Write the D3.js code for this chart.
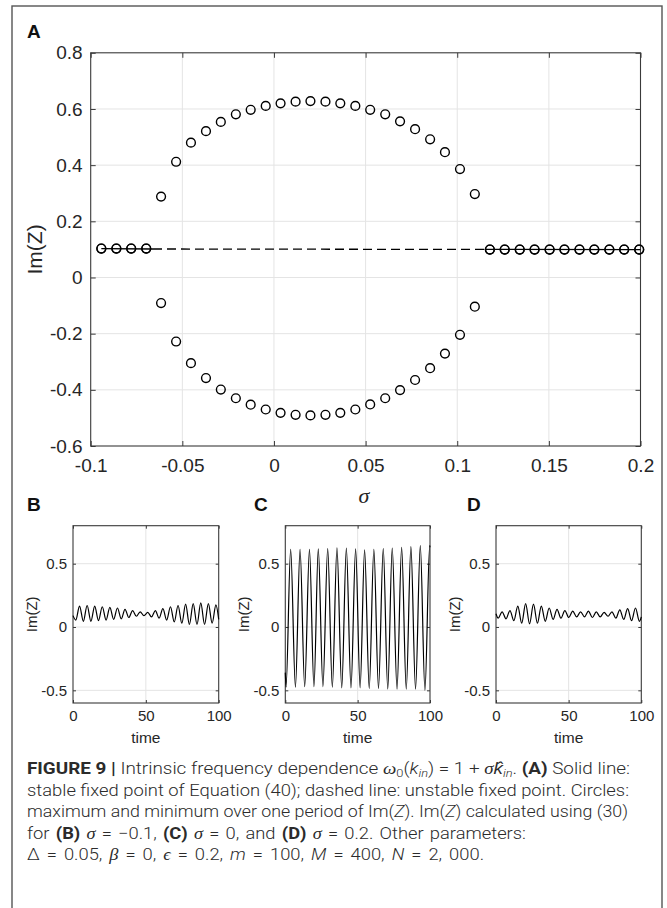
<!DOCTYPE html>
<html><head><meta charset="utf-8">
<script src="https://cdn.jsdelivr.net/npm/d3@7"></script>
<style>
body{margin:0;background:#fff;}
#wrap{position:relative;width:667px;height:908px;overflow:hidden;background:#fff;}
svg{position:absolute;left:0;top:0;}
.cap{position:absolute;left:27px;white-space:nowrap;font-family:Roboto,"Liberation Sans",sans-serif;font-weight:300;font-size:16.5px;color:#2b2b2b;transform-origin:0 0;line-height:20px;}
.cap b{font-weight:700;}
.g{font-family:"Liberation Serif","DejaVu Serif",serif;font-style:italic;font-weight:400;}
.i{font-style:italic;}
.cap sub{font-size:0.68em;vertical-align:-0.28em;line-height:0;}
</style></head><body><div id="wrap"><svg id="chart" width="667" height="908"></svg>
<div class="cap" data-w="603" style="top:759px"><b>FIGURE 9 |</b> Intrinsic frequency dependence <span class="g">ω</span><sub>0</sub>(<span class="i">k<sub>in</sub></span>) = 1 + <span class="g">σ</span><span class="i">k̂<sub>in</sub></span>. <b>(A)</b> Solid line:</div>
<div class="cap" data-w="602" style="top:780.5px">stable fixed point of Equation (40); dashed line: unstable fixed point. Circles:</div>
<div class="cap" data-w="601" style="top:802px">maximum and minimum over one period of Im(<span class="i">Z</span>). Im(<span class="i">Z</span>) calculated using (30)</div>
<div class="cap" data-w="499" style="top:823.5px">for <b>(B)</b> <span class="g">σ</span> = −0.1, <b>(C)</b> <span class="g">σ</span> = 0, and <b>(D)</b> <span class="g">σ</span> = 0.2. Other parameters:</div>
<div class="cap" data-w="457" style="top:845px">Δ = 0.05, <span class="g">β</span> = 0, <span class="g">ϵ</span> = 0.2, <span class="i">m</span> = 100, <span class="i">M</span> = 400, <span class="i">N</span> = 2, 000.</div>
</div>
<script>
// ---------- Panel A data ----------
const sigmaA = [-0.0942,-0.0860,-0.0779,-0.0697,-0.0616,-0.0534,-0.0453,-0.0371,-0.0290,-0.0208,-0.0127,-0.0045,0.0036,0.0118,0.0199,0.0281,0.0362,0.0444,0.0525,0.0607,0.0688,0.0770,0.0852,0.0933,0.1015,0.1096,0.1178,0.1259,0.1341,0.1422,0.1504,0.1585,0.1667,0.1748,0.1830,0.1911,0.1993];
const imMax = [0.103,0.103,0.103,0.103,0.288,0.412,0.480,0.521,0.554,0.581,0.597,0.611,0.620,0.626,0.628,0.626,0.620,0.611,0.597,0.581,0.556,0.528,0.492,0.446,0.386,0.297,0.0995,0.0995,0.0995,0.0995,0.0995,0.0995,0.0995,0.0995,0.0995,0.0995,0.0995];
const imMin = [0.103,0.103,0.103,0.103,-0.091,-0.228,-0.305,-0.358,-0.399,-0.430,-0.453,-0.470,-0.482,-0.489,-0.491,-0.489,-0.482,-0.470,-0.452,-0.430,-0.401,-0.365,-0.323,-0.271,-0.204,-0.104,0.0995,0.0995,0.0995,0.0995,0.0995,0.0995,0.0995,0.0995,0.0995,0.0995,0.0995];
// fixed point branch: segments solid (stable) / dashed (unstable)
const fpSigma = [-0.0942,-0.066,0.115,0.2];
const fpIm = [0.103,0.1015,0.0998,0.0995];
const fpStyle = ["solid","dashed","solid"];
const xTicksA = [-0.1,-0.05,0,0.05,0.1,0.15,0.2];
const xTickLabelsA = ["-0.1","-0.05","0","0.05","0.1","0.15","0.2"];
const yTicksA = [-0.6,-0.4,-0.2,0,0.2,0.4,0.6,0.8];
const yTickLabelsA = ["-0.6","-0.4","-0.2","0","0.2","0.4","0.6","0.8"];

// ---------- Panels B, C, D data (extrema) ----------
const tB = [0,1.9,4.5,7.1,9.7,12.3,14.9,17.5,20.1,22.7,25.3,27.9,30.5,33.1,35.7,38.3,40.9,43.5,46.1,48.7,51.3,53.9,56.5,59.1,61.7,64.3,66.9,69.5,72.1,74.7,77.3,79.9,82.5,85.1,87.7,90.3,92.9,95.5,98.1,100];
const imB = [0.09,0.055,0.165,0.045,0.17,0.045,0.165,0.05,0.16,0.055,0.155,0.06,0.15,0.065,0.14,0.075,0.13,0.085,0.12,0.09,0.115,0.08,0.13,0.07,0.145,0.055,0.16,0.04,0.17,0.03,0.18,0.02,0.185,0.02,0.19,0.02,0.185,0.03,0.175,0.06];
const tC = [0,0.5,3.7,7.0,10.2,13.4,16.7,19.8,22.8,26.0,29.3,32.5,35.7,39.0,42.2,45.4,48.6,51.7,54.8,58.0,61.2,64.4,67.7,70.8,73.9,77.2,80.4,83.6,86.8,90.0,93.3,96.5,99.8,100];
const imC = [-0.36,-0.475,0.614,-0.475,0.614,-0.47,0.614,-0.47,0.617,-0.47,0.62,-0.475,0.626,-0.48,0.624,-0.48,0.617,-0.48,0.61,-0.485,0.614,-0.485,0.62,-0.49,0.624,-0.49,0.63,-0.49,0.635,-0.49,0.642,-0.5,0.642,0.63];
const tD = [0,1.5,4.2,6.9,9.6,12.3,15,17.7,20.4,23.1,25.8,28.5,31.2,33.9,36.6,39.3,42,44.7,47.4,50.1,52.8,55.5,58.2,60.9,63.6,66.3,69,71.7,74.4,77.1,79.8,82.5,85.2,87.9,90.6,93.3,96,98.7,100];
const imD = [0.105,0.07,0.12,0.065,0.13,0.05,0.165,0.03,0.185,0.025,0.18,0.03,0.165,0.045,0.15,0.06,0.14,0.07,0.13,0.075,0.125,0.08,0.12,0.08,0.125,0.075,0.12,0.08,0.115,0.085,0.12,0.07,0.135,0.06,0.145,0.05,0.15,0.045,0.08];
const xTicksS = [0,50,100];
const xTickLabelsS = ["0","50","100"];
const yTicksS = [-0.5,0,0.5];
const yTickLabelsS = ["-0.5","0","0.5"];

// ---------- drawing ----------
const svg = d3.select("#chart");
const AX = "#3a3a3a", TXT = "#262626", GRID = "#e4e4e4";
const FONT = "'Liberation Sans', Arial, sans-serif";

// outer frame
svg.append("rect").attr("x",12).attr("y",6).attr("width",650).attr("height",940)
  .attr("fill","none").attr("stroke","#555").attr("stroke-width",1.4);

function frameAxes(g, x, y, xt, xl, yt, yl, o){
  const [x0,x1] = x.range(), [y0,y1] = y.range(); // y0 bottom, y1 top
  g.append("g").selectAll("line").data(xt.filter(v=>v!==x.domain()[0]&&v!==x.domain()[1])).join("line")
    .attr("x1",d=>x(d)).attr("x2",d=>x(d)).attr("y1",y0).attr("y2",y1).attr("stroke",GRID).attr("stroke-width",1);
  g.append("g").selectAll("line").data(yt.filter(v=>v!==y.domain()[0]&&v!==y.domain()[1])).join("line")
    .attr("y1",d=>y(d)).attr("y2",d=>y(d)).attr("x1",x0).attr("x2",x1).attr("stroke",GRID).attr("stroke-width",1);
  const mk = (gen, tr, labels, pad) => {
    const a = g.append("g").attr("transform",tr)
      .call(gen.tickSize(-o.tick).tickPadding(pad).tickFormat((d,i)=>labels?labels[i]:""));
    a.select(".domain").remove();
    a.selectAll(".tick line").attr("stroke",AX).attr("stroke-width",1);
    a.selectAll("text").attr("fill",TXT).style("font-family",FONT).style("font-size",o.fs+"px");
    return a;
  };
  mk(d3.axisBottom(x).tickValues(xt), `translate(0,${y0})`, xl, o.padX);
  mk(d3.axisTop(x).tickValues(xt), `translate(0,${y1})`, null, 0);
  mk(d3.axisLeft(y).tickValues(yt), `translate(${x0},0)`, yl, o.padY);
  mk(d3.axisRight(y).tickValues(yt), `translate(${x1},0)`, null, 0);
  g.append("rect").attr("x",x0).attr("y",y1).attr("width",x1-x0).attr("height",y0-y1)
    .attr("fill","none").attr("stroke",AX).attr("stroke-width",1.1);
}

// Panel A
const xA = d3.scaleLinear().domain([-0.1,0.2]).range([90.7,640.5]);
const yA = d3.scaleLinear().domain([-0.6,0.8]).range([446,52.8]);
const gA = svg.append("g");
frameAxes(gA, xA, yA, xTicksA, xTickLabelsA, yTicksA, yTickLabelsA, {tick:5, fs:19, padX:12.5, padY:8});
const fpLine = d3.line().x(d=>xA(d[0])).y(d=>yA(d[1]));
fpStyle.forEach((s,i)=>{
  gA.append("path").attr("d",fpLine([[fpSigma[i],fpIm[i]],[fpSigma[i+1],fpIm[i+1]]]))
    .attr("fill","none").attr("stroke","#000").attr("stroke-width",1.3)
    .attr("stroke-dasharray", s==="dashed" ? "9,5" : null);
});
const pts = sigmaA.map((s,i)=>[s,imMax[i]]).concat(sigmaA.map((s,i)=>[s,imMin[i]]));
gA.append("g").selectAll("circle").data(pts).join("circle")
  .attr("cx",d=>xA(d[0])).attr("cy",d=>yA(d[1])).attr("r",4.4)
  .attr("fill","none").attr("stroke","#000").attr("stroke-width",1.4);
gA.append("text").attr("transform","translate(42,249.4) rotate(-90)").attr("text-anchor","middle")
  .style("font-family",FONT).style("font-size","21px").attr("fill",TXT).text("Im(Z)");
gA.append("text").attr("x",364).attr("y",503).attr("text-anchor","middle")
  .style("font-family","'Liberation Serif','DejaVu Serif',serif").style("font-style","italic").style("font-size","22px")
  .attr("fill",TXT).text("σ");

// small panels
const small = [
  {id:"B", x0:73, x1:218.7, lx:27, t:tB, v:imB},
  {id:"C", x0:285.3, x1:430, lx:254, t:tC, v:imC},
  {id:"D", x0:496, x1:641.3, lx:467, t:tD, v:imD}
];
small.forEach(p=>{
  const x = d3.scaleLinear().domain([0,100]).range([p.x0,p.x1]);
  const y = d3.scaleLinear().domain([-0.6,0.8]).range([703,525.7]);
  const g = svg.append("g");
  frameAxes(g, x, y, xTicksS, xTickLabelsS, yTicksS, yTickLabelsS, {tick:3, fs:15, padX:7, padY:6});
  const line = d3.line().x((d,i)=>x(p.t[i])).y(d=>y(d)).curve(d3.curveMonotoneX);
  g.append("path").attr("d",line(p.v)).attr("fill","none").attr("stroke","#000").attr("stroke-width",1.2);
  g.append("text").attr("transform",`translate(${p.x0-36},${(703+525.7)/2}) rotate(-90)`).attr("text-anchor","middle")
    .style("font-family",FONT).style("font-size","15px").attr("fill",TXT).text("Im(Z)");
  g.append("text").attr("x",(p.x0+p.x1)/2).attr("y",743).attr("text-anchor","middle")
    .style("font-family",FONT).style("font-size","15.5px").attr("fill",TXT).text("time");
  svg.append("text").attr("x",p.lx).attr("y",511).style("font-family",FONT).style("font-weight","bold")
    .style("font-size","19px").attr("fill","#111").text(p.id);
});
svg.append("text").attr("x",27).attr("y",38).style("font-family",FONT).style("font-weight","bold")
  .style("font-size","19px").attr("fill","#111").text("A");

// caption fitting: full lines scaled to width; short lines keep the common scale and widen their spacing
const caps = Array.from(document.querySelectorAll(".cap"));
const ws = caps.map(el=>el.getBoundingClientRect().width);
const k = d3.mean([0,1,2].map(i=>+caps[i].dataset.w/ws[i]));
caps.forEach((el,i)=>{
  const target = +el.dataset.w;
  if(i<3){ el.style.transform = `scaleX(${target/ws[i]})`; return; }
  const nSp = (el.textContent.match(/ /g)||[]).length;
  const extra = (target/k - ws[i]) / nSp;
  el.style.wordSpacing = extra + "px";
  el.style.transform = `scaleX(${k})`;
});
</script>
</body></html>
